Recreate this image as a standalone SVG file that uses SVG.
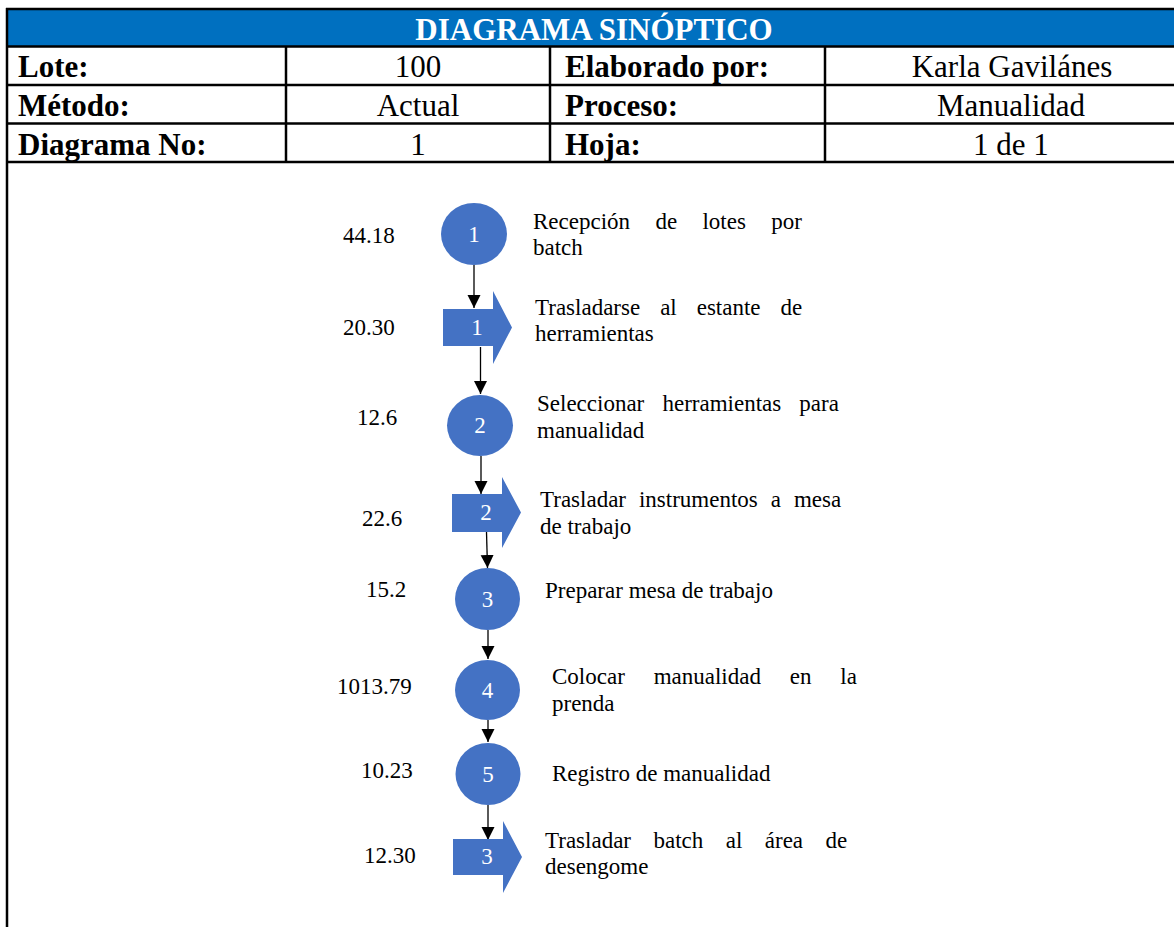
<svg xmlns="http://www.w3.org/2000/svg" width="1174" height="927" viewBox="0 0 1174 927">
  <style>
    .hdr { font-family: "Liberation Serif", "Times New Roman", serif; font-size: 31px; fill: #000; }
    .b { font-weight: bold; }
    .c { text-anchor: middle; }
    .title { font-family: "Liberation Serif", "Times New Roman", serif; font-size: 31px; font-weight: bold; fill: #fff; text-anchor: middle; }
    .grid { stroke: #000; stroke-width: 2.5; fill: none; }
    .shape { fill: #4472C4; }
    .num { font-family: "Liberation Serif", "Times New Roman", serif; font-size: 23px; fill: #fff; text-anchor: middle; }
    .t { font-family: "Liberation Serif", "Times New Roman", serif; font-size: 23px; fill: #000; }
    .conn { stroke: #000; stroke-width: 1.3; fill: none; marker-end: url(#arrow); }
  </style>
  <defs>
    <!-- filled triangular arrowhead, tip at the end of the line -->
    <marker id="arrow" markerUnits="userSpaceOnUse" markerWidth="14" markerHeight="14" viewBox="0 0 14 14" refX="13" refY="7" orient="auto">
      <path d="M0,0.5 L13,7 L0,13.5 Z" fill="#000"/>
    </marker>
  </defs>

  <!-- header table -->
  <g id="header">
    <rect x="7" y="9" width="1167" height="37" fill="#0070C0"/>
    <text class="title" x="594" y="40">DIAGRAMA SINÓPTICO</text>
    <line class="grid" x1="6" y1="9" x2="1174" y2="9"/>
    <line class="grid" x1="6" y1="46.5" x2="1174" y2="46.5"/>
    <line class="grid" x1="6" y1="85" x2="1174" y2="85"/>
    <line class="grid" x1="6" y1="123.5" x2="1174" y2="123.5"/>
    <line class="grid" x1="6" y1="162" x2="1174" y2="162"/>
    <line class="grid" x1="7" y1="8" x2="7" y2="927"/>
    <line class="grid" x1="286" y1="46" x2="286" y2="162"/>
    <line class="grid" x1="550" y1="46" x2="550" y2="162"/>
    <line class="grid" x1="825" y1="46" x2="825" y2="162"/>

    <text class="hdr b" x="18" y="77">Lote:</text>
    <text class="hdr c" x="418" y="77">100</text>
    <text class="hdr b" x="565" y="77">Elaborado por:</text>
    <text class="hdr c" x="1012" y="77">Karla Gavilánes</text>

    <text class="hdr b" x="18" y="116">Método:</text>
    <text class="hdr c" x="418" y="116">Actual</text>
    <text class="hdr b" x="565" y="116">Proceso:</text>
    <text class="hdr c" x="1011" y="116">Manualidad</text>

    <text class="hdr b" x="18" y="155">Diagrama No:</text>
    <text class="hdr c" x="418" y="155">1</text>
    <text class="hdr b" x="565" y="155">Hoja:</text>
    <text class="hdr c" x="1011" y="155">1 de 1</text>
  </g>

  <!-- connectors -->
  <g id="connectors">
    <line class="conn" x1="474" y1="265" x2="474" y2="308"/>
    <line class="conn" x1="480.5" y1="347" x2="480.5" y2="394"/>
    <line class="conn" x1="481" y1="456" x2="481" y2="494"/>
    <line class="conn" x1="486.5" y1="532" x2="487.5" y2="568"/>
    <line class="conn" x1="488" y1="630" x2="488" y2="659"/>
    <line class="conn" x1="488" y1="720" x2="488" y2="742"/>
    <line class="conn" x1="488" y1="805" x2="488" y2="840"/>
  </g>

  <!-- operation 1 -->
  <g id="op1">
    <ellipse class="shape" cx="474" cy="234" rx="33" ry="31"/>
    <text class="num" x="474" y="242">1</text>
    <text class="t" x="343" y="243">44.18</text>
    <text class="t" x="533" y="229" word-spacing="19.6">Recepción de lotes por</text>
    <text class="t" x="533" y="255">batch</text>
  </g>

  <!-- transport 1 -->
  <g id="tr1">
    <path class="shape" d="M443,309 H493 V291 L512,327.5 L493,364 V346 H443 Z"/>
    <text class="num" x="477" y="335">1</text>
    <text class="t" x="343" y="335">20.30</text>
    <text class="t" x="535" y="315" word-spacing="14.2">Trasladarse al estante de</text>
    <text class="t" x="535" y="341">herramientas</text>
  </g>

  <!-- operation 2 -->
  <g id="op2">
    <ellipse class="shape" cx="480" cy="425.5" rx="33" ry="30.5"/>
    <text class="num" x="480" y="433">2</text>
    <text class="t" x="357" y="425">12.6</text>
    <text class="t" x="537" y="411" word-spacing="12.4">Seleccionar herramientas para</text>
    <text class="t" x="537" y="438">manualidad</text>
  </g>

  <!-- transport 2 -->
  <g id="tr2">
    <path class="shape" d="M452,494 H502 V477 L521,512.5 L502,548 V532 H452 Z"/>
    <text class="num" x="486" y="520">2</text>
    <text class="t" x="362" y="526">22.6</text>
    <text class="t" x="540" y="507" word-spacing="7.2">Trasladar instrumentos a mesa</text>
    <text class="t" x="540" y="534">de trabajo</text>
  </g>

  <!-- operation 3 -->
  <g id="op3">
    <ellipse class="shape" cx="487.5" cy="599" rx="32.5" ry="31"/>
    <text class="num" x="487.5" y="607">3</text>
    <text class="t" x="366" y="597">15.2</text>
    <text class="t" x="545" y="598">Preparar mesa de trabajo</text>
  </g>

  <!-- operation 4 -->
  <g id="op4">
    <ellipse class="shape" cx="487.5" cy="690" rx="32.5" ry="30"/>
    <text class="num" x="487.5" y="698">4</text>
    <text class="t" x="337" y="694">1013.79</text>
    <text class="t" x="552" y="684" word-spacing="23.1">Colocar manualidad en la</text>
    <text class="t" x="552" y="711">prenda</text>
  </g>

  <!-- operation 5 -->
  <g id="op5">
    <ellipse class="shape" cx="488" cy="774" rx="32.5" ry="31"/>
    <text class="num" x="488" y="782">5</text>
    <text class="t" x="361" y="778">10.23</text>
    <text class="t" x="552" y="781">Registro de manualidad</text>
  </g>

  <!-- transport 3 -->
  <g id="tr3">
    <path class="shape" d="M453,839 H503 V821 L522,857 L503,893 V875 H453 Z"/>
    <text class="num" x="487" y="864">3</text>
    <text class="t" x="364" y="863">12.30</text>
    <text class="t" x="545" y="848" word-spacing="16.7">Trasladar batch al área de</text>
    <text class="t" x="545" y="874">desengome</text>
  </g>
</svg>
